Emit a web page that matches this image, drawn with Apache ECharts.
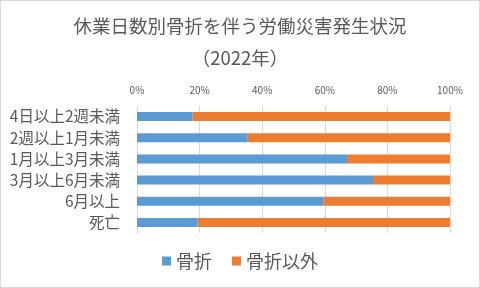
<!DOCTYPE html>
<html><head><meta charset="utf-8">
<script src="https://cdn.jsdelivr.net/npm/echarts@6/dist/echarts.min.js"></script>
<style>
html,body{margin:0;padding:0;background:#fff;}
#c{width:480px;height:288px;box-sizing:border-box;border:1px solid #d9d9d9;}
</style></head><body>
<div id="c"></div>
<script>
var categories = ['4日以上2週未満','2週以上1月未満','1月以上3月未満','3月以上6月未満','6月以上','死亡'];
var fracture = [17.8, 35.4, 67.1, 75.4, 59.5, 19.4];
var other = fracture.map(function(v){return +(100 - v).toFixed(1);});
var xTicks = [0, 20, 40, 60, 80, 100];
var font = '"Noto Sans CJK JP", "Noto Sans", sans-serif';
var chart = echarts.init(document.getElementById('c'), null, {renderer:'canvas'});
chart.setOption({
  animation:false,
  textStyle:{fontFamily:font},
  title:{
    text:'休業日数別骨折を伴う労働災害発生状況\n（2022年）',
    left:'center', top:4,
    textStyle:{fontSize:18.5, fontWeight:'normal', color:'#595959', lineHeight:32, fontFamily:font}
  },
  legend:{
    bottom:12, left:'center', itemWidth:9, itemHeight:9, itemGap:20,
    icon:'rect',
    textStyle:{fontSize:18, color:'#595959', fontFamily:font},
    data:['骨折','骨折以外']
  },
  grid:{left:136, right:29, top:105, bottom:54, containLabel:false},
  xAxis:{
    type:'value', position:'top', min:0, max:100, interval:20,
    axisLabel:{formatter:function(v){return xTicks.indexOf(v)>=0? v+'%':'';}, fontSize:10, color:'#595959', margin:11},
    splitLine:{lineStyle:{color:'#d9d9d9', width:1}},
    axisLine:{show:false}, axisTick:{show:false}
  },
  yAxis:{
    type:'category', inverse:true, data:categories,
    axisLabel:{fontSize:15.5, color:'#595959', margin:17},
    axisLine:{show:true, lineStyle:{color:'#d9d9d9'}},
    axisTick:{show:false}
  },
  series:[
    {name:'骨折', type:'bar', stack:'a', data:fracture, barWidth:9, itemStyle:{color:'#5b9bd5'}},
    {name:'骨折以外', type:'bar', stack:'a', data:other, barWidth:9, itemStyle:{color:'#ed7d31'}}
  ]
});
</script></body></html>
